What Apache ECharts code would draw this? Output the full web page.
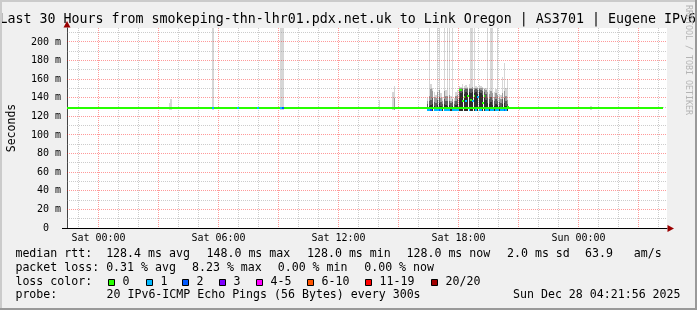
<!DOCTYPE html>
<html><head><meta charset="utf-8">
<script src="https://cdn.jsdelivr.net/npm/echarts@6/dist/echarts.min.js"></script>
<style>html,body{margin:0;padding:0;background:#f0f0f0}#c{width:697px;height:310px}</style>
</head><body><div id="c"></div>
<script>
// ---------- data (hours relative to Sat 00:00, values in ms) ----------
const X_MIN = -1.575, X_MAX = 28.425;
const Y_MIN = 0, Y_MAX = 215;
const STEP_H = 5 / 60;                       // 300 s step
const xLabelHours = [0, 6, 12, 18, 24];
const xLabelTexts = ['Sat 00:00', 'Sat 06:00', 'Sat 12:00', 'Sat 18:00', 'Sun 00:00'];
const xMinorGrid = [-1,1,2,4,5,7,8,10,11,13,14,16,17,19,20,22,23,25,26,28];
const xMajorGrid = [0,3,6,9,12,15,18,21,24,27];
const yMinorGrid = [10,30,50,70,90,110,130,150,170,190,210];
const yMajorGrid = [20,40,60,80,100,120,140,160,180,200];

// median base line (loss 0)
const baseLineHours = [-1.575, 28.24];
const baseLineValue = 128;

// smoke: step index (5 min steps from Sat 00:00), bottom, and layer tops (outer light -> inner dark)
const smokeIdx  = [42,43,68,109,110,168,176,177,
  197,198,199,200,201,202,203,204,205,206,207,208,209,210,211,212,213,214,215,216,217,218,219,220,221,222,223,224,225,226,227,228,229,230,231,232,233,234,235,236,237,238,239,240,241,242,243,244,245,
  252,295];
const smokeBase = [127,127,127,127,127,127,127,127,
  126,126,126,126,126,126,126,126,126,126,126,126,126,126,126,126,126,126,126,126,126,126,126,126,126,126,126,126,126,126,126,126,126,126,126,126,126,126,126,126,126,126,126,126,126,126,126,126,126,
  127,127];
const smokeTop1 = [134,139,215,215,215,138,146,153,
  140,215,155,150,146,143,215,215,145,141,215,148,215,215,142,215,140,146,148,153,152,155,153,154,152,155,215,215,215,153,152,154,153,152,151,150,215,148,215,215,146,149,215,144,143,162,177,150,160,
  130,131];
const smokeTop2 = [null,null,null,null,null,null,null,140,
  136,142,149,147,141,140,146,148,140,137,147,142,142,143,137,139,137,142,143,150,150,151,150,151,150,151,151,152,151,151,150,151,150,150,149,148,146,144,147,145,141,145,143,140,139,145,147,142,138,
  null,null];
const smokeTop3 = [null,null,null,null,null,null,null,null,
  133,136,138,140,135,134,138,141,135,133,139,137,136,137,134,135,133,137,139,148,149,149,148,149,149,149,149,149,148,149,148,149,148,147,146,144,140,139,141,138,136,139,137,135,134,139,140,136,133,
  null,null];
const smokeTop4 = [null,null,null,null,null,null,null,null,
  130,131,132,133,131,130,132,134,131,130,133,132,131,132,130,131,130,132,133,140,145,146,144,146,145,146,145,146,145,146,144,146,145,143,140,138,134,133,135,132,131,133,132,131,130,133,134,131,130,
  null,null];

// median overlays with loss (step index, median, lost pings category index)
const medIdx  = [68,83,95,109,110,
  197,198,199,200,201,202,203,204,205,206,207,208,209,210,211,212,213,214,215,216,217,218,219,220,221,222,223,224,225,226,227,228,229,230,231,232,233,234,235,236,237,238,239,240,241,242,243,244,245];
const medVal  = [128,128,128,128,128,
  126,126,126,128,126,126,126,126,126,128,126,126,126,126,128,126,126,126,126,148,148,136,140,136,141,126,137,136,141,126,140,126,126,134,141,126,126,128,126,126,128,126,126,128,126,126,126,126,130];
const medLoss = [1,1,1,1,2,
  1,1,2,0,1,1,1,2,1,0,1,1,1,1,0,1,1,1,1,0,0,0,0,1,0,1,0,1,0,1,1,1,1,0,0,1,1,0,1,1,0,1,1,0,1,1,2,1,0];

const lossLabels = ['0','1','2','3','4-5','6-10','11-19','20/20'];
const lossColors = ['#26ff00','#00b8ff','#0059ff','#7e00ff','#ff00ff','#ff5500','#ff0000','#a10000'];

const statsLine1 = ['median rtt:  128.4 ms avg', '148.0 ms max', '128.0 ms min', '128.0 ms now', '2.0 ms sd', '63.9   am/s'];
const statsLine2 = ['packet loss: 0.31 % avg', '8.23 % max', '0.00 % min', '0.00 % now'];
const probeText = ['probe:', '20 IPv6-ICMP Echo Pings (56 Bytes) every 300s', 'Sun Dec 28 04:21:56 2025'];
const titleText = 'Last 30 Hours from smokeping-thn-lhr01.pdx.net.uk to Link Oregon | AS3701 | Eugene IPv6';

// ---------- build ----------
const MONO = '"DejaVu Sans Mono", monospace';
const smokeColors = ['#d6d6d6', '#9a9a9a', '#5c5c5c', '#2e2e2e'];
const smokeTops = [smokeTop1, smokeTop2, smokeTop3, smokeTop4];

function smokeData(tops) {
  const out = [];
  smokeIdx.forEach((k, i) => { if (tops[i] != null) out.push([k * STEP_H, smokeBase[i], tops[i]]); });
  return out;
}
function rectRender(color) {
  return function (params, api) {
    const h0 = api.value(0), lo = api.value(1), hi = api.value(2);
    const p0 = api.coord([h0, hi]), p1 = api.coord([h0 + STEP_H, lo]);
    const x0 = Math.round(p0[0]), x1 = Math.round(p1[0]);
    const y0 = Math.round(p0[1]), y1 = Math.round(p1[1]);
    return { type: 'rect', shape: { x: x0, y: y0, width: Math.max(1, x1 - x0), height: Math.max(1, y1 - y0) }, style: { fill: color } };
  };
}
const RED = 'rgba(255,0,0,0.4)', GRAY = 'rgba(128,128,128,0.4)';
function xGridRender(params, api) {
  const p = api.coord([api.value(0), 0]);
  const cs = params.coordSys;
  const x = Math.floor(p[0]) + 0.5;
  return { type: 'line', shape: { x1: x, y1: cs.y, x2: x, y2: cs.y + cs.height },
    style: { stroke: api.value(1) ? RED : GRAY, lineWidth: 1, lineDash: [1, 1] } };
}
function yGridRender(params, api) {
  const p = api.coord([X_MIN, api.value(1)]);
  const cs = params.coordSys;
  const y = Math.floor(p[1]) + 0.5;
  return { type: 'line', shape: { x1: cs.x, y1: y, x2: cs.x + cs.width, y2: y },
    style: { stroke: api.value(2) ? RED : GRAY, lineWidth: 1, lineDash: [1, 1] } };
}
function medRender(params, api) {
  const h0 = api.value(0), h1 = api.value(1), v = api.value(2), loss = api.value(3);
  const p0 = api.coord([h0, v]), p1 = api.coord([h1, v]);
  const x0 = Math.round(p0[0]), x1 = Math.round(p1[0]);
  const y = Math.floor(p0[1]) - 1;
  return { type: 'rect', shape: { x: x0, y: y, width: Math.max(1, x1 - x0), height: 2 }, style: { fill: lossColors[loss] } };
}

const xGridData = xMinorGrid.map(h => [h, 0]).concat(xMajorGrid.map(h => [h, 1]));
const yGridData = yMinorGrid.map(v => [X_MIN, v, 0]).concat(yMajorGrid.map(v => [X_MIN, v, 1]));
const medData = [[baseLineHours[0], baseLineHours[1], baseLineValue, 0]].concat(
  medIdx.map((k, i) => [k * STEP_H, (k + 1) * STEP_H, medVal[i], medLoss[i]]));

const series = [];
smokeTops.forEach((tops, li) => {
  series.push({ type: 'custom', coordinateSystem: 'cartesian2d', clip: true, silent: true, z: 2 + li * 0.1,
    renderItem: rectRender(smokeColors[li]), encode: { x: 0, y: [1, 2] }, data: smokeData(tops) });
});
series.push({ type: 'custom', silent: true, z: 3, renderItem: xGridRender, encode: { x: 0, y: 1 }, data: xGridData });
series.push({ type: 'custom', silent: true, z: 3, renderItem: yGridRender, encode: { x: 0, y: 1 }, data: yGridData });
series.push({ type: 'custom', silent: true, z: 4, renderItem: medRender, encode: { x: [0, 1], y: 2 }, data: medData });

// graphics: frame, title, legend text
const g = [];
g.push({ type: 'rect', z: 100, shape: { x: 0, y: 0, width: 697, height: 2 }, style: { fill: '#cbcbcb' } });
g.push({ type: 'rect', z: 100, shape: { x: 0, y: 0, width: 2, height: 310 }, style: { fill: '#cbcbcb' } });
g.push({ type: 'rect', z: 101, shape: { x: 0, y: 308, width: 697, height: 2 }, style: { fill: '#999999' } });
g.push({ type: 'rect', z: 101, shape: { x: 695, y: 0, width: 2, height: 310 }, style: { fill: '#999999' } });
g.push({ type: 'text', z: 50, x: -0.5, y: 19.3, style: { text: titleText, font: '13.3px ' + MONO, fill: '#000', textAlign: 'left', textVerticalAlign: 'middle' } });
g.push({ type: 'text', z: 50, x: 688, y: 60, rotation: -Math.PI / 2, style: { text: 'RRDTOOL / TOBI OETIKER', font: '8.3px ' + MONO, fill: '#b4b4b4', textAlign: 'center', textVerticalAlign: 'middle' } });
// axis arrows
g.push({ type: 'polygon', z: 60, shape: { points: [[67, 21], [63.5, 27.5], [70.5, 27.5]] }, style: { fill: '#9a0000' } });
g.push({ type: 'polygon', z: 60, shape: { points: [[674, 228.5], [667.5, 225], [667.5, 232]] }, style: { fill: '#9a0000' } });
g.push({ type: 'line', z: 60, shape: { x1: 62, y1: 228.5, x2: 67, y2: 228.5 }, style: { stroke: '#000', lineWidth: 1 } });

const LF = '11.6px ' + MONO;
function txt(s, x, y) { g.push({ type: 'text', z: 50, x: x, y: y, style: { text: s, font: LF, fill: '#000', textAlign: 'left', textVerticalAlign: 'middle' } }); }
const l1x = [15.4, 206.5, 307, 406.5, 507, 585];
statsLine1.forEach((s, i) => txt(s, l1x[i], 254.3));
const l2x = [15.4, 192, 277.7, 364.2];
statsLine2.forEach((s, i) => txt(s, l2x[i], 268));
txt('loss color:', 15.4, 281.7);
const boxX = [108, 146, 182, 219, 256, 307, 365, 431];
lossLabels.forEach((s, i) => {
  g.push({ type: 'rect', z: 50, shape: { x: boxX[i] + 0.5, y: 279.5, width: 6, height: 6 }, style: { fill: lossColors[i], stroke: '#000', lineWidth: 1 } });
  txt(s, boxX[i] + 14.5, 281.7);
});
const l4x = [15.4, 106.5, 513];
probeText.forEach((s, i) => txt(s, l4x[i], 295.4));

const chart = echarts.init(document.getElementById('c'), null, { renderer: 'canvas', width: 697, height: 310 });
chart.setOption({
  animation: false,
  backgroundColor: '#f0f0f0',
  grid: { left: 67, top: 28, width: 600, height: 200, show: true, backgroundColor: '#ffffff', borderWidth: 0,
    containLabel: false, outerBoundsMode: 'none' },
  xAxis: {
    type: 'value', min: X_MIN, max: X_MAX,
    axisLine: { show: true, lineStyle: { color: '#000', width: 1 } },
    axisTick: { show: false }, splitLine: { show: false },
    axisLabel: { customValues: xLabelHours, formatter: v => xLabelTexts[xLabelHours.indexOf(v)] || '',
      fontFamily: '"DejaVu Sans Mono"', fontSize: 10, color: '#000', margin: 5 }
  },
  yAxis: {
    type: 'value', min: Y_MIN, max: Y_MAX, interval: 20,
    name: 'Seconds', nameLocation: 'middle', nameRotate: 90, nameGap: 49,
    nameTextStyle: { fontFamily: '"DejaVu Sans Mono"', fontSize: 11.5, color: '#000' },
    axisLine: { show: true, onZero: false, lineStyle: { color: '#444', width: 1 } },
    axisTick: { show: false }, splitLine: { show: false },
    axisLabel: { showMaxLabel: false, formatter: v => v === 0 ? '0  ' : v + ' m',
      fontFamily: '"DejaVu Sans Mono"', fontSize: 10, color: '#000', margin: 6 }
  },
  series: series,
  graphic: g
});
</script></body></html>
